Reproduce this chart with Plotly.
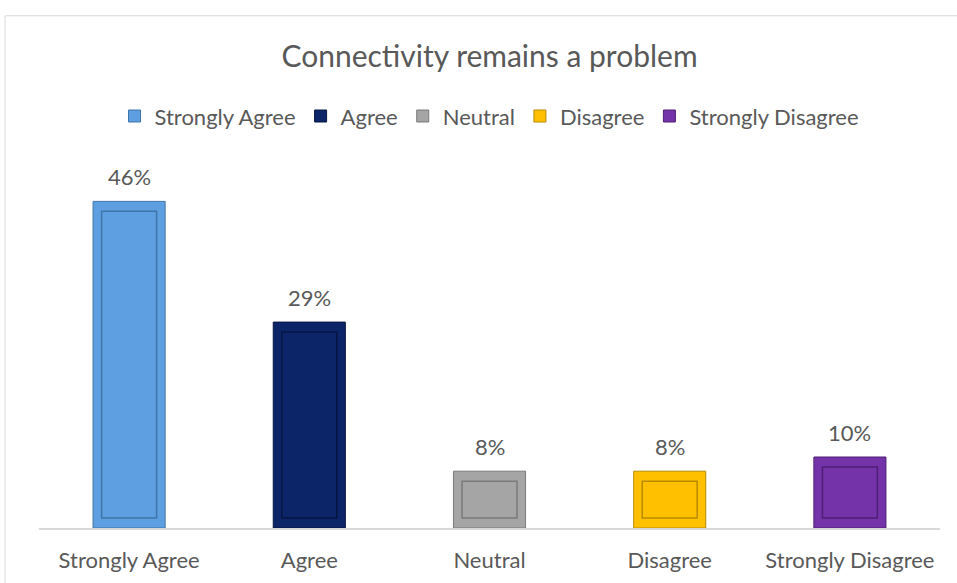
import plotly.graph_objects as go

categories = ["Strongly Agree", "Agree", "Neutral", "Disagree", "Strongly Disagree"]
values = [46, 29, 8, 8, 10]
labels = ["46%", "29%", "8%", "8%", "10%"]
colors = ["#5d9fe0", "#0c2468", "#a5a5a5", "#ffc000", "#7433a8"]
edge_colors = ["#3f75a8", "#061641", "#7a7a7a", "#b98a00", "#4f1f75"]

FONT = "Lato"
TEXT = "#595959"
inset = 1.4

fig = go.Figure()
for cat, v, c, e in zip(categories, values, colors, edge_colors):
    fig.add_trace(go.Bar(
        x=[cat], y=[v], name=cat, width=0.4,
        marker=dict(color=c, line=dict(color=e, width=1)),
        hoverinfo="skip",
    ))
for cat, v, c, e in zip(categories, values, colors, edge_colors):
    fig.add_trace(go.Bar(
        x=[cat], y=[v - 2 * inset], base=[inset], width=0.305,
        marker=dict(color=c, line=dict(color=e, width=1.5)),
        showlegend=False, hoverinfo="skip",
    ))

for cat, v, t in zip(categories, values, labels):
    fig.add_annotation(x=cat, y=v, text=t, showarrow=False, yshift=25,
                       font=dict(family=FONT, size=22, color=TEXT))

fig.add_shape(type="rect", xref="paper", yref="paper",
              x0=-0.0377, x1=1.05, y0=-0.3, y1=1.443,
              line=dict(color="#d9d9d9", width=1), fillcolor="rgba(0,0,0,0)", layer="below")

fig.update_layout(
    width=957, height=583,
    margin=dict(l=39, r=17, t=172.5, b=55),
    paper_bgcolor="white", plot_bgcolor="white",
    barmode="overlay",
    title=dict(text="Connectivity remains a problem", x=0.5, xref="paper",
               y=1 - 56 / 583, yref="container", yanchor="middle",
               font=dict(family=FONT, size=30, color=TEXT)),
    legend=dict(orientation="h", x=0.5, xanchor="center", y=1.16, yanchor="middle",
                font=dict(family=FONT, size=22, color=TEXT),
                itemclick=False, traceorder="normal"),
    xaxis=dict(showline=True, linecolor="#d9d9d9", linewidth=1.5, ticks="",
               ticklabelstandoff=12, automargin=False,
               tickfont=dict(family=FONT, size=22, color=TEXT), showgrid=False),
    yaxis=dict(range=[0, 50], visible=False, showgrid=False, automargin=False),
    showlegend=True,
)

fig.write_html("out.html", config={"displayModeBar": False},
               post_script="document.body.style.margin='0';document.body.style.overflow='hidden';")
